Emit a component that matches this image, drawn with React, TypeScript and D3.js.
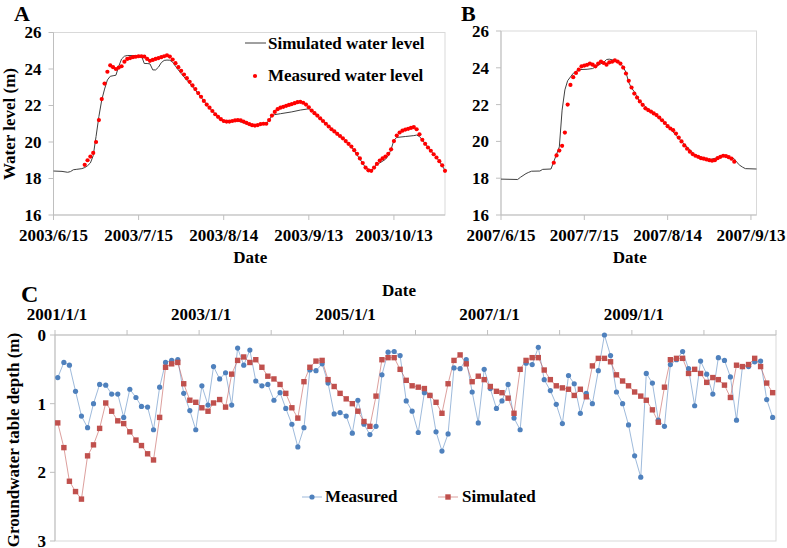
import React from 'react';
import * as d3 from 'd3';

// ---- Panel A : 2003 flood season (daily) ----
const aStart = '2003-06-15';
const aEnd = '2003-10-31';
const aTicks = ['2003-06-15', '2003-07-15', '2003-08-14', '2003-09-13', '2003-10-13'];
const aMeasuredFirstDay = 11; // days after aStart
const aMeasured = [
  18.75, 19.0, 19.2, 19.4, 20.0, 21.2, 22.35, 23.2, 23.85, 24.2,
  24.1, 24.0, 24.08, 24.15, 24.4, 24.55, 24.6, 24.65, 24.67, 24.7,
  24.7, 24.68, 24.55, 24.45, 24.5, 24.55, 24.6, 24.65, 24.7, 24.75,
  24.68, 24.52, 24.32, 24.1, 23.9, 23.7, 23.5, 23.3, 23.1, 22.9,
  22.68, 22.48, 22.25, 22.05, 21.88, 21.7, 21.52, 21.38, 21.25, 21.15,
  21.12, 21.12, 21.15, 21.18, 21.2, 21.18, 21.12, 21.05, 20.98, 20.92,
  20.9, 20.93, 20.98, 21.0, 21.0, 21.2, 21.45, 21.65, 21.8, 21.88,
  21.93, 21.98, 22.03, 22.08, 22.13, 22.18, 22.2, 22.15, 22.05, 21.9,
  21.72, 21.58, 21.45, 21.3, 21.15, 21.0, 20.85, 20.7, 20.58, 20.45,
  20.33, 20.2, 20.05, 19.9, 19.75, 19.55, 19.35, 19.1, 18.85, 18.6,
  18.45, 18.42, 18.6, 18.8, 18.98, 19.1, 19.2, 19.35, 19.6, 20.05,
  20.35, 20.52, 20.62, 20.68, 20.72, 20.77, 20.82, 20.7, 20.42, 20.12,
  19.9, 19.7, 19.52, 19.33, 19.15, 18.95, 18.72, 18.42,
];
const aSimDays = [
  0, 3, 5, 6, 7, 8, 10, 11, 12, 13, 14, 15, 16, 17, 18, 19, 20, 21, 22, 23, 24, 25, 26, 30,
  31, 32, 33, 34, 35, 36, 37, 38, 39, 40, 41, 42, 43, 44, 45, 50, 55, 60, 65, 70, 75, 76,
  77, 78, 80, 84, 87, 90, 91, 92, 95, 100, 105, 110, 112, 113, 114, 115, 117, 118, 119, 120,
  121, 124, 127, 128, 129, 130, 133, 136, 138,
];
const aSimLevels = [
  18.41, 18.39, 18.34, 18.38, 18.48, 18.5, 18.54, 18.6, 18.7, 18.85, 19.25, 20.3, 21.4, 22.3,
  22.9, 23.4, 23.6, 23.63, 23.66, 24.15, 24.55, 24.7, 24.74, 24.74,
  24.72, 24.3, 24.3, 24.28, 23.95, 23.95, 24.1, 24.35, 24.47, 24.49, 24.48, 24.38, 24.15,
  23.95, 23.75, 22.85, 21.85, 21.1, 21.15, 20.9, 21.0, 21.2,
  21.45, 21.5, 21.55, 21.65, 21.75, 21.82, 21.75, 21.58, 21.15, 20.45, 19.75, 18.6, 18.4,
  18.6, 18.8, 18.85, 19.05, 19.25, 19.6, 20.1,
  20.25, 20.3, 20.35, 20.38, 20.3, 20.12, 19.52, 18.95, 18.45,
];

// ---- Panel B : 2007 flood season (daily) ----
const bStart = '2007-06-15';
const bEnd = '2007-09-15';
const bTicks = ['2007-06-15', '2007-07-15', '2007-08-14', '2007-09-13'];
const bMeasuredFirstDay = 19;
const bMeasured = [
  18.84, 19.24, 19.5, 19.76, 20.48, 22.0, 23.07, 23.49, 23.72, 23.9,
  24.08, 24.12, 24.16, 24.23, 24.17, 24.08, 24.23, 24.34, 24.26, 24.17,
  24.3, 24.33, 24.4, 24.34, 24.23, 24.01, 23.69, 23.29, 22.93, 22.6,
  22.38, 22.17, 21.99, 21.8, 21.7, 21.62, 21.52, 21.43, 21.3, 21.15,
  21.0, 20.83, 20.7, 20.61, 20.43, 20.21, 20.0, 19.78, 19.6, 19.44,
  19.31, 19.22, 19.16, 19.09, 19.06, 19.02, 18.98, 18.95, 18.98, 19.09,
  19.16, 19.22, 19.2, 19.14, 19.06, 18.9,
];
const bSimDays = [
  0, 6, 7, 9, 10, 11, 14, 15, 18, 19, 20, 21, 22, 23, 24, 26, 28, 31, 33, 35, 37, 38, 39,
  41, 42, 43, 44, 45, 46, 47, 48, 50, 55, 60, 65, 70, 75, 80, 82, 84, 85, 86, 87, 88, 92,
];
const bSimLevels = [
  17.95, 17.93, 18.05, 18.25, 18.32, 18.38, 18.39, 18.48, 18.5, 18.9, 19.3, 19.7, 21.7, 22.8,
  23.3, 23.7, 23.9, 23.92, 23.96, 24.14, 24.3, 24.45, 24.47,
  24.4, 24.38, 24.25, 24.05, 23.75, 23.2, 22.9, 22.7, 22.15, 21.5, 20.85, 20.0, 19.25, 19.0,
  19.2, 19.15, 19.05, 18.85, 18.7, 18.6, 18.52, 18.5,
];

// ---- Panel C : monthly groundwater table depth 2001-2010 ----
const cStart = '2001-01-01';
const cEnd = '2011-01-01';
const cTickLabels = ['2001-01-01', '2003-01-01', '2005-01-01', '2007-01-01', '2009-01-01'];
const cMeasured = [
  0.62, 0.4, 0.44, 0.82, 1.18, 1.35, 1.0, 0.72, 0.73, 0.86, 0.86, 1.2,
  0.79, 0.91, 1.04, 1.05, 1.38, 0.76, 0.4, 0.37, 0.36, 0.85, 1.1, 1.38,
  0.74, 1.02, 0.46, 0.64, 0.55, 1.02, 0.19, 0.44, 0.22, 0.67, 0.74, 0.72,
  0.95, 0.84, 1.07, 1.3, 1.63, 1.35, 0.51, 0.52, 0.42, 0.7, 1.15, 1.13,
  1.18, 1.43, 0.95, 1.3, 1.45, 1.33, 0.58, 0.25, 0.24, 0.3, 0.96, 1.11,
  1.42, 0.84, 0.88, 1.41, 1.69, 1.44, 0.48, 0.49, 0.36, 0.83, 1.28, 0.5,
  0.78, 1.07, 0.96, 0.72, 1.21, 1.38, 0.41, 0.43, 0.18, 0.65, 0.81, 1.01,
  1.29, 0.59, 0.71, 1.14, 0.85, 1.0, 0.52, 0.0, 0.3, 0.83, 1.0, 1.31,
  1.76, 2.07, 0.56, 0.7, 1.24, 1.33, 0.43, 0.36, 0.24, 0.49, 1.03, 0.38,
  0.57, 0.86, 0.33, 0.37, 0.61, 1.24, 0.46, 0.46, 0.39, 0.38, 0.94, 1.2,
];
const cSimulated = [
  1.28, 1.64, 2.13, 2.28, 2.39, 1.76, 1.6, 1.36, 0.99, 1.11, 1.25, 1.29,
  1.41, 1.53, 1.61, 1.73, 1.82, 1.2, 0.47, 0.42, 0.4, 0.71, 0.95, 0.98,
  1.06, 1.11, 0.99, 0.94, 1.05, 0.57, 0.37, 0.32, 0.4, 0.36, 0.47, 0.6,
  0.64, 0.72, 0.85, 1.06, 1.21, 0.68, 0.47, 0.38, 0.37, 0.65, 0.75, 0.85,
  0.93, 1.0, 1.11, 1.26, 1.33, 0.89, 0.36, 0.33, 0.33, 0.5, 0.66, 0.74,
  0.76, 0.78, 0.88, 0.98, 1.14, 0.71, 0.37, 0.29, 0.42, 0.68, 0.6, 0.65,
  0.75, 0.82, 0.84, 0.92, 1.14, 0.5, 0.37, 0.33, 0.33, 0.51, 0.65, 0.74,
  0.77, 0.79, 0.88, 0.79, 0.9, 0.45, 0.34, 0.34, 0.39, 0.58, 0.67, 0.74,
  0.83, 0.89, 0.95, 1.09, 1.27, 0.76, 0.36, 0.34, 0.34, 0.56, 0.5, 0.56,
  0.69, 0.62, 0.65, 0.73, 0.91, 0.44, 0.46, 0.43, 0.34, 0.46, 0.7, 0.84,
];

const levelTicks = [16, 18, 20, 22, 24, 26];
const depthTicks = [0, 1, 2, 3];

const FONT = "'Liberation Serif', 'Times New Roman', Times, serif";
const BORDER = '#d9d9d9';
const AXIS = '#bfbfbf';
const parse = d3.utcParse('%Y-%m-%d');
const fmt = d3.utcFormat('%Y/%-m/%-d');

function LevelPanel({ x0, x1, y0, y1, start, end, ticks, measured, firstDay, simDays, simLevels, legend }) {
  const t0 = parse(start);
  const x = d3.scaleUtc().domain([t0, parse(end)]).range([x0, x1]);
  const y = d3.scaleLinear().domain([16, 26]).range([y1, y0]);
  const day = (d) => d3.utcDay.offset(t0, d);

  const simLine = d3
    .line()
    .x((i) => x(day(simDays[i])))
    .y((i) => y(simLevels[i]));

  return (
    <g>
      <rect x={x0} y={y0} width={x1 - x0} height={y1 - y0} fill="none" stroke={BORDER} />
      <line x1={x0} x2={x0} y1={y0} y2={y1} stroke={AXIS} />
      <line x1={x0} x2={x1} y1={y1} y2={y1} stroke={AXIS} />
      {levelTicks.map((v) => (
        <g key={v}>
          <line x1={x0 - 5} x2={x0} y1={y(v)} y2={y(v)} stroke={AXIS} />
          <text x={x0 - 12} y={y(v)} dy="0.35em" textAnchor="end">{v}</text>
        </g>
      ))}
      {ticks.map((t) => (
        <g key={t}>
          <line x1={x(parse(t))} x2={x(parse(t))} y1={y1} y2={y1 + 5} stroke={AXIS} />
          <text x={x(parse(t))} y={y1 + 26} textAnchor="middle">{fmt(parse(t))}</text>
        </g>
      ))}
      <text x={(x0 + x1) / 2 + 1} y={y1 + 48} textAnchor="middle">Date</text>
      <path d={simLine(d3.range(simDays.length))} fill="none" stroke="#404040" strokeWidth={1} />
      {measured.map((v, i) => (
        <circle key={i} cx={x(day(firstDay + i))} cy={y(v)} r={2.1} fill="#ff0000" />
      ))}
      {legend && (
        <g>
          <line x1={245} x2={266} y1={43} y2={43} stroke="#404040" />
          <text x={268} y={49}>Simulated water level</text>
          <circle cx={255} cy={76} r={2.1} fill="#ff0000" />
          <text x={268} y={81}>Measured water level</text>
        </g>
      )}
    </g>
  );
}

function DepthPanel() {
  const x0 = 55, x1 = 776, y0 = 335, y1 = 541;
  const x = d3.scaleUtc().domain([parse(cStart), parse(cEnd)]).range([x0, x1]);
  const y = d3.scaleLinear().domain([0, 3]).range([y0, y1]);
  const months = d3.utcMonth.range(parse(cStart), parse(cEnd)).map((d) => d3.utcDay.offset(d, 14));
  const years = d3.utcYear.range(parse(cStart), d3.utcDay.offset(parse(cEnd), 1));
  const blue = '#4f81bd';
  const red = '#c0504d';

  const line = (vals) =>
    d3
      .line()
      .x((i) => x(months[i]))
      .y((i) => y(vals[i]))(d3.range(vals.length));

  return (
    <g>
      <rect x={x0} y={y0} width={x1 - x0} height={y1 - y0} fill="none" stroke={BORDER} />
      <line x1={x0} x2={x1} y1={y0} y2={y0} stroke={AXIS} />
      <line x1={x0} x2={x0} y1={y0} y2={y1} stroke={AXIS} />
      {years.map((d) => (
        <line key={+d} x1={x(d)} x2={x(d)} y1={y0 - 5} y2={y0} stroke={AXIS} />
      ))}
      {cTickLabels.map((t) => (
        <text key={t} x={x(parse(t)) + 2} y={y0 - 15} textAnchor="middle">{fmt(parse(t))}</text>
      ))}
      <text x={399} y={296} textAnchor="middle">Date</text>
      {depthTicks.map((v) => (
        <g key={v}>
          <line x1={x0 - 5} x2={x0} y1={y(v)} y2={y(v)} stroke={AXIS} />
          <text x={x0 - 9} y={y(v)} dy="0.35em" textAnchor="end">{v}</text>
        </g>
      ))}
      <text transform={`translate(19,${(y0 + y1) / 2 + 2}) rotate(-90)`} textAnchor="middle">
        Groundwater table depth (m)
      </text>

      <path d={line(cMeasured)} fill="none" stroke={blue} strokeOpacity={0.55} strokeWidth={1} />
      <path d={line(cSimulated)} fill="none" stroke={red} strokeOpacity={0.55} strokeWidth={1} />
      {cMeasured.map((v, i) => (
        <circle key={'m' + i} cx={x(months[i])} cy={y(v)} r={2.6} fill={blue} />
      ))}
      {cSimulated.map((v, i) => (
        <rect key={'s' + i} x={x(months[i]) - 2.7} y={y(v) - 2.7} width={5.4} height={5.4} fill={red} />
      ))}

      <line x1={302} x2={322} y1={497} y2={497} stroke={blue} strokeOpacity={0.55} />
      <circle cx={312} cy={497} r={2.6} fill={blue} />
      <text x={325} y={502}>Measured</text>
      <line x1={438} x2={458} y1={497} y2={497} stroke={red} strokeOpacity={0.55} />
      <rect x={445.3} y={494.3} width={5.4} height={5.4} fill={red} />
      <text x={462} y={502}>Simulated</text>
    </g>
  );
}

export default function App() {
  return (
    <svg
      width={787}
      height={548}
      style={{
        position: 'absolute',
        left: 0,
        top: 0,
        background: '#fff',
        fontFamily: FONT,
        fontWeight: 'bold',
        fontSize: 17,
      }}
    >
      <text x={14} y={21} fontSize={22}>A</text>
      <text x={461} y={21} fontSize={22}>B</text>
      <text x={21} y={302} fontSize={24}>C</text>

      <text transform="translate(15,124) rotate(-90)" textAnchor="middle">Water level (m)</text>

      <LevelPanel
        x0={53.5}
        x1={445}
        y0={32.5}
        y1={215}
        start={aStart}
        end={aEnd}
        ticks={aTicks}
        measured={aMeasured}
        firstDay={aMeasuredFirstDay}
        simDays={aSimDays}
        simLevels={aSimLevels}
        legend
      />
      <LevelPanel
        x0={501}
        x1={756.5}
        y0={31}
        y1={215}
        start={bStart}
        end={bEnd}
        ticks={bTicks}
        measured={bMeasured}
        firstDay={bMeasuredFirstDay}
        simDays={bSimDays}
        simLevels={bSimLevels}
      />
      <DepthPanel />
    </svg>
  );
}
